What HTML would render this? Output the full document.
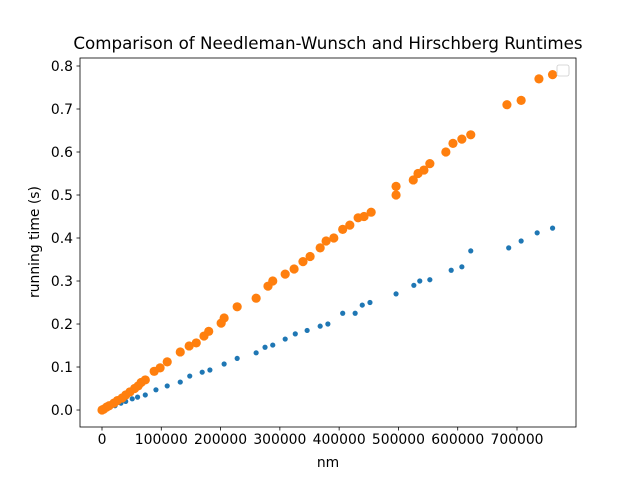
<!DOCTYPE html>
<html><head><meta charset="utf-8"><style>body{margin:0;background:#fff}svg{display:block;font-family:"DejaVu Sans","Liberation Sans",sans-serif}</style></head>
<body>
<svg id="chart" width="640" height="480"></svg>
<script>
const blueNm=[0,6000,13000,22000,32000,40000,51000,60000,73000,91000,110000,132000,148000,169000,182000,206000,228000,260000,275000,288000,309000,326000,346000,368000,381000,406000,427000,439000,452000,496000,526000,536000,553000,589000,607000,622000,686000,707000,734000,760000];
const blueT=[0,0.003,0.006,0.01,0.016,0.02,0.026,0.03,0.035,0.047,0.056,0.065,0.079,0.088,0.093,0.107,0.12,0.133,0.146,0.151,0.165,0.177,0.185,0.195,0.2,0.225,0.225,0.244,0.25,0.27,0.29,0.3,0.303,0.325,0.333,0.37,0.377,0.393,0.412,0.423];
const orangeNm=[0,3000,8000,12000,20000,26000,34000,40000,47000,55000,61000,66000,73000,88000,98000,110000,132000,147000,159000,172000,180000,201000,206000,228000,260000,280000,288000,309000,324000,339000,351000,368000,378000,391000,406000,418000,432000,442000,454000,496000,496000,525000,533000,543000,553000,580000,592000,607000,622000,683000,707000,737000,760000];
const orangeT=[0,0.002,0.007,0.01,0.016,0.022,0.028,0.035,0.042,0.05,0.056,0.064,0.07,0.09,0.098,0.112,0.135,0.149,0.156,0.172,0.183,0.202,0.214,0.24,0.26,0.288,0.3,0.316,0.328,0.345,0.357,0.377,0.393,0.4,0.42,0.43,0.447,0.45,0.46,0.5,0.52,0.535,0.55,0.558,0.573,0.6,0.62,0.63,0.64,0.71,0.72,0.77,0.78];
const xTicks=[0,100000,200000,300000,400000,500000,600000,700000];
const yTicks=[0,0.1,0.2,0.3,0.4,0.5,0.6,0.7,0.8];
const L=80,R=576,T=58,B=427;
const x0=-37108,x1=799518,y0=-0.0395,y1=0.8186;
const sx=v=>L+(v-x0)/(x1-x0)*(R-L);
const sy=v=>B-(v-y0)/(y1-y0)*(B-T);
const svg=document.getElementById('chart');const NS='http://www.w3.org/2000/svg';
function mk(tag,attrs,parent){const e=document.createElementNS(NS,tag);for(const k in attrs)e.setAttribute(k,attrs[k]);(parent||svg).appendChild(e);return e;}
const title=mk('text',{x:328,y:49,'text-anchor':'middle','font-size':16.7});title.textContent='Comparison of Needleman-Wunsch and Hirschberg Runtimes';


const gb=mk('g',{});


blueNm.forEach((v,i)=>{const c=mk('circle',{cx:sx(v),cy:sy(blueT[i]),r:2.6,fill:'#1f77b4'},gb);

});
const go=mk('g',{});


orangeNm.forEach((v,i)=>{const c=mk('circle',{cx:sx(v),cy:sy(orangeT[i]),r:4.6,fill:'#ff7f0e'},go);

});
const frame=mk('rect',{x:L,y:T,width:R-L,height:B-T,fill:'none',stroke:'#000','stroke-width':0.8});


xTicks.forEach(v=>{const x=sx(v);mk('line',{x1:x,x2:x,y1:B,y2:B+3.5,stroke:'#000','stroke-width':0.8});
const t=mk('text',{x:x,y:B+17,'text-anchor':'middle','font-size':13.9});t.textContent=String(v);

});
yTicks.forEach(v=>{const y=sy(v);mk('line',{x1:L-3.5,x2:L,y1:y,y2:y,stroke:'#000','stroke-width':0.8});
const t=mk('text',{x:L-7,y:y+5,'text-anchor':'end','font-size':13.9});t.textContent=v.toFixed(1);

});
const xl=mk('text',{x:328,y:467,'text-anchor':'middle','font-size':13.9});xl.textContent='nm';


const yl=mk('text',{x:0,y:0,'text-anchor':'middle','font-size':13.9,transform:'translate(39,242) rotate(-90)'});yl.textContent='running time (s)';


const lg=mk('rect',{x:557,y:65,width:12,height:11,rx:2,fill:'#fff',stroke:'#ccc','stroke-width':0.8});


</script>
</body></html>
